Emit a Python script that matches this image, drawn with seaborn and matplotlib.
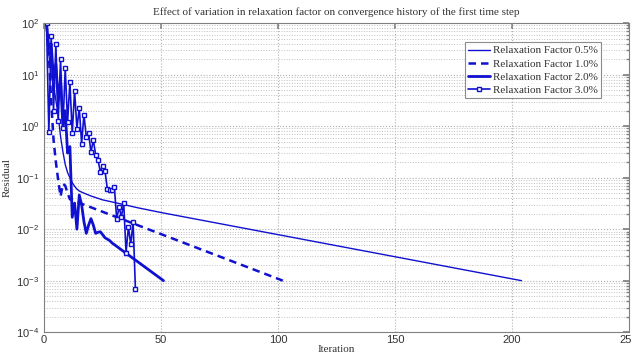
import numpy as np
import pandas as pd
import matplotlib
matplotlib.use("Agg")
import matplotlib.pyplot as plt
import seaborn as sns
from matplotlib.ticker import LogLocator, NullFormatter

# ---- data ----
it_05 = [1, 2, 3, 4, 5, 6, 7, 8, 9, 10, 11, 12, 13, 14, 15, 17, 20, 25, 30, 40, 50, 204]
res_05 = [100, 25, 10, 6.3, 3.2, 1.6, 0.63, 0.32, 0.18, 0.126, 0.1, 0.08, 0.068,
          0.06, 0.055, 0.05, 0.044, 0.037, 0.033, 0.026, 0.021, 0.001]

it_10 = [1, 2, 3, 4, 5, 6, 7, 8, 9, 10, 11, 102]
res_10 = [100, 25, 3.0, 0.55, 0.2, 0.09, 0.043, 0.076, 0.07, 0.05, 0.038, 0.001]

it_20 = [1, 2, 3, 4, 5, 6, 7, 8, 9, 10, 11, 12, 13, 14, 15, 16, 17, 18, 19, 20,
         21, 22, 23, 24, 25, 26, 27, 28, 29, 51]
res_20 = [100, 32, 40, 8, 16, 3.2, 8, 1.0, 2.0, 0.3, 0.4, 0.017, 0.032, 0.010, 0.046,
          0.03, 0.014, 0.0083, 0.012, 0.016, 0.012, 0.0083, 0.0087, 0.0089, 0.0078,
          0.0068, 0.0064, 0.006, 0.0054, 0.001]

it_30 = list(range(1, 40))
res_30 = [100, 0.76, 57, 2.0, 39, 1.26, 20, 0.91, 13.5, 1.2, 7.1, 0.72, 4.9, 0.89,
          2.3, 0.46, 1.66, 0.62, 0.74, 0.31, 0.54, 0.28, 0.22, 0.13, 0.17, 0.135,
          0.060, 0.058, 0.057, 0.066, 0.0155, 0.027, 0.0174, 0.032, 0.0035, 0.011,
          0.0051, 0.0138, 0.00068]

labels = ["Relaxation Factor 0.5%", "Relaxation Factor 1.0%",
          "Relaxation Factor 2.0%", "Relaxation Factor 3.0%"]

title = "Effect of variation in relaxation factor on convergence history of the first time step"

# ---- style ----
sns.set_theme(style="white")
plt.rcParams['font.family'] = ['Liberation Serif', 'DejaVu Serif']
plt.rcParams['mathtext.fontset'] = 'custom'
plt.rcParams['mathtext.rm'] = 'Liberation Sans'
plt.rcParams['mathtext.it'] = 'Liberation Sans:italic'

fig = plt.figure(figsize=(6.31, 3.56), dpi=100)
ax = fig.add_axes([0.070, 0.067, 0.927, 0.868])

blue = "#1010d0"

d05 = pd.DataFrame({"Iteration": it_05, "Residual": res_05})
d10 = pd.DataFrame({"Iteration": it_10, "Residual": res_10})
d20 = pd.DataFrame({"Iteration": it_20, "Residual": res_20})
d30 = pd.DataFrame({"Iteration": it_30, "Residual": res_30})

sns.lineplot(data=d05, x="Iteration", y="Residual", ax=ax, color=blue, lw=1.0,
             label=labels[0], sort=False)
sns.lineplot(data=d10, x="Iteration", y="Residual", ax=ax, color=blue, lw=1.8,
             linestyle=(0, (3, 2)), label=labels[1], sort=False)
sns.lineplot(data=d20, x="Iteration", y="Residual", ax=ax, color=blue, lw=2.0,
             label=labels[2], sort=False)
sns.lineplot(data=d30, x="Iteration", y="Residual", ax=ax, color=blue, lw=1.2,
             marker="s", markersize=3.5, markerfacecolor="white",
             markeredgecolor=blue, markeredgewidth=1.0, label=labels[3], sort=False)

ax.set_yscale("log")
ax.set_xlim(0, 250)
ax.set_ylim(1e-4, 1e2)
ax.set_xticks([0, 50, 100, 150, 200, 250])
ax.yaxis.set_major_locator(LogLocator(base=10, numticks=10))
ax.yaxis.set_minor_locator(LogLocator(base=10, subs=np.arange(2, 10), numticks=20))
ax.yaxis.set_minor_formatter(NullFormatter())

ax.grid(True, which="major", axis="both", color="#b0b0b0", linestyle=":", linewidth=0.8)
ax.grid(True, which="minor", axis="y", color="#c0c0c0", linestyle=":", linewidth=0.7)
ax.set_axisbelow(True)

for s in ax.spines.values():
    s.set_color("#808080")
    s.set_linewidth(0.8)

ax.tick_params(axis="both", which="both", direction="in", top=True, right=True,
               colors="#808080", labelcolor="#333333", labelsize=8)
ax.tick_params(axis="x", which="major", pad=2)
ax.tick_params(which="major", length=4)
ax.tick_params(which="minor", length=2)
for lab in ax.get_xticklabels() + ax.get_yticklabels():
    lab.set_fontfamily("Liberation Sans")

ax.set_title(title, fontsize=8, color="#333333", pad=6)
ax.set_xlabel("Iteration", fontsize=8, color="#333333", labelpad=0)
ax.set_ylabel("Residual", fontsize=8, color="#333333")
ax.yaxis.set_label_coords(-0.055, 0.5)

leg = ax.legend(loc="upper right", bbox_to_anchor=(0.952, 0.938), fontsize=8,
                frameon=True, fancybox=False, handlelength=2.0, handletextpad=0.2,
                borderpad=0.3, labelspacing=0.3, borderaxespad=0.0)
leg.get_frame().set_edgecolor("#707070")
leg.get_frame().set_linewidth(0.8)
for t in leg.get_texts():
    t.set_color("#333333")

fig.savefig("out.png", dpi=100)
